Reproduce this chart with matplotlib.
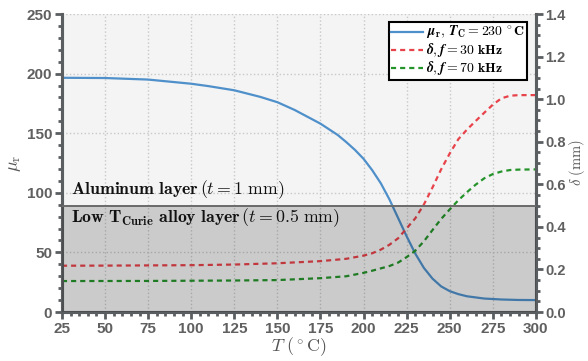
import matplotlib
matplotlib.use("Agg")
import matplotlib.pyplot as plt
from matplotlib.ticker import MultipleLocator, FormatStrFormatter

plt.rcParams['mathtext.fontset'] = 'cm'
plt.rcParams['font.family'] = 'Liberation Sans'

# permeability vs temperature (Curie point 230 C)
T_mu = [25, 50, 75, 100, 110, 125, 140, 150, 160, 175, 185, 190, 195, 200, 205, 210,
        215, 220, 225, 230, 235, 240, 245, 250, 255, 260, 270, 280, 290, 300]
mu_r = [196.5, 196.3, 195, 191.5, 189.5, 186, 180.5, 176, 169.5, 158, 148.5, 142.5, 136, 128.5, 119, 108,
        94.5, 79, 63.5, 49, 37, 28, 21.5, 17.5, 15, 13.2, 11.3, 10.5, 10.1, 10]

# skin depth (mm) at 30 kHz and 70 kHz
T_d = [25, 50, 75, 100, 125, 150, 175, 190, 200, 205, 210, 215, 220, 225, 230,
       235, 240, 245, 250, 255, 260, 265, 270, 275, 280, 285, 290, 300]
delta_30 = [0.2175, 0.218, 0.219, 0.220, 0.223, 0.229, 0.239, 0.250, 0.265, 0.276, 0.293,
            0.316, 0.346, 0.393, 0.440, 0.505, 0.585, 0.670, 0.745, 0.812, 0.857, 0.897,
            0.936, 0.974, 1.004, 1.016, 1.019, 1.019]
delta_70 = [0.1455, 0.1457, 0.146, 0.147, 0.148, 0.150, 0.159, 0.168, 0.184, 0.194, 0.205,
            0.216, 0.232, 0.258, 0.288, 0.332, 0.385, 0.437, 0.482, 0.525, 0.563, 0.598,
            0.628, 0.648, 0.660, 0.667, 0.669, 0.670]

alloy_top = 0.5  # mm, top of the low-Curie alloy layer

axis_col = '#5b5e60'
tick_col = '#606060'

fig = plt.figure(figsize=(5.88, 3.61), dpi=100)
ax1 = fig.add_axes([0.1054, 0.1357, 0.806, 0.8255])
ax1.set_facecolor('#f4f4f4')
ax2 = ax1.twinx()

l1, = ax1.plot(T_mu, mu_r, color='#4f90ca', lw=1.6, zorder=2,
               label=r'$\boldsymbol{\mu}_\mathbf{r},\,\boldsymbol{T}_\mathbf{C}\mathbf{=230\,^\circ C}$')
l2, = ax2.plot(T_d, delta_30, color='#e8434b', lw=1.6, ls=(0, (2.3, 1.8)), zorder=2,
               label=r'$\boldsymbol{\delta},\boldsymbol{f}\mathbf{=30\ kHz}$')
l3, = ax2.plot(T_d, delta_70, color='#24932a', lw=1.6, ls=(0, (2.3, 1.8)), zorder=2,
               label=r'$\boldsymbol{\delta},\boldsymbol{f}\mathbf{=70\ kHz}$')

# shaded alloy layer drawn over the curves
ax2.axhspan(0, alloy_top, color='black', alpha=0.165, lw=0, zorder=4)
ax2.axhline(alloy_top, color='#6a6a6a', lw=1.4, zorder=4)

ax1.set_xlim(25, 300)
ax1.set_ylim(0, 250)
ax2.set_ylim(0, 1.4)

ax1.xaxis.set_major_locator(MultipleLocator(25))
ax1.xaxis.set_minor_locator(MultipleLocator(5))
ax1.yaxis.set_major_locator(MultipleLocator(50))
ax1.yaxis.set_minor_locator(MultipleLocator(10))
ax2.yaxis.set_major_locator(MultipleLocator(0.2))
ax2.yaxis.set_minor_locator(MultipleLocator(0.05))
ax2.yaxis.set_major_formatter(FormatStrFormatter('%.1f'))

ax1.grid(True, which='major', color='#c8c8c8', ls=':', lw=1.0, zorder=0)
ax1.set_axisbelow(True)

for ax in (ax1, ax2):
    ax.spines['top'].set_visible(False)
    for s in ('left', 'right', 'bottom'):
        ax.spines[s].set_color(axis_col)
        ax.spines[s].set_linewidth(2.2)
    ax.tick_params(which='major', direction='out', length=5, width=2, color=axis_col,
                   labelcolor=tick_col, labelsize=11, pad=2)
    ax.tick_params(which='minor', direction='out', length=3, width=2, color=axis_col)
    for lab in ax.get_xticklabels() + ax.get_yticklabels():
        lab.set_fontweight('bold')
ax2.tick_params(which='major', labelsize=10.5, pad=1.5)
for lab in ax2.get_yticklabels():
    lab.set_fontweight('bold')

ax1.set_xlabel(r'$T\ (^\circ\mathrm{C})$', fontsize=13, color='#555555', labelpad=0)
ax1.set_ylabel(r'$\mu_\mathrm{r}$', fontsize=13, color='#555555', labelpad=3)
ax2.set_ylabel(r'$\delta\ (\mathrm{mm})$', fontsize=10.5, color='#555555')
ax2.yaxis.set_label_coords(1.065, 0.5)

ax2.text(30.5, 0.575, r'$\mathbf{Aluminum\ layer}\,(t=1\ \mathrm{mm})$',
         fontsize=12.8, color='#111111', va='center', ha='left', zorder=6)
ax2.text(30.5, 0.445, r'$\mathbf{Low\ T_{Curie}\ alloy\ layer}\,(t=0.5\ \mathrm{mm})$',
         fontsize=12.8, color='#111111', va='center', ha='left', zorder=6)

leg = ax2.legend(handles=[l1, l2, l3], loc='upper right', bbox_to_anchor=(0.981, 0.973),
                 borderaxespad=0, fontsize=10, handlelength=2.3, handletextpad=0.2,
                 borderpad=0.15, labelspacing=0.0, fancybox=False, framealpha=1,
                 edgecolor='black')
leg.get_frame().set_linewidth(1.5)
leg.set_zorder(10)

fig.savefig('out.png', dpi=100, facecolor='white')
